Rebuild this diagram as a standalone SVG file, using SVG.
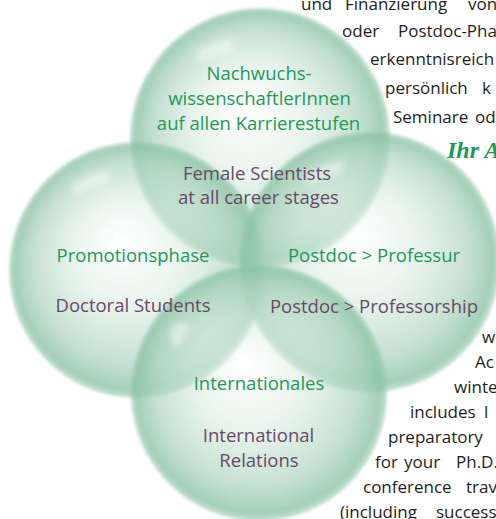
<svg xmlns="http://www.w3.org/2000/svg" width="496" height="519" viewBox="0 0 496 519">
<defs>
  <radialGradient id="sph" cx="0.5" cy="0.5" r="0.5" fx="0.44" fy="0.38">
    <stop offset="0" stop-color="#ffffff" stop-opacity="0.45"/>
    <stop offset="0.45" stop-color="#d3e9dc" stop-opacity="0.55"/>
    <stop offset="0.8" stop-color="#a8d1b9" stop-opacity="0.7"/>
    <stop offset="0.95" stop-color="#8cc3a4" stop-opacity="0.8"/>
    <stop offset="1" stop-color="#8cc3a4" stop-opacity="0.5"/>
  </radialGradient>
  <filter id="soft" x="-10%" y="-10%" width="120%" height="120%"><feGaussianBlur stdDeviation="1.8"/></filter>
  <filter id="hl" x="-50%" y="-50%" width="200%" height="200%"><feGaussianBlur stdDeviation="3"/></filter>
  <style>
    .sphere { fill: url(#sph); filter: url(#soft); }
    .shine { fill: #ffffff; opacity: 0.45; filter: url(#hl); }
    .de { fill: #1b9a58; font-family: "Open Sans", "Noto Sans", sans-serif; font-size: 18.5px; text-anchor: middle; }
    .en { fill: #664a68; font-family: "Open Sans", "Noto Sans", sans-serif; font-size: 18.5px; text-anchor: middle; }
    .para { fill: #1e1e1e; font-family: "Open Sans", "Noto Sans", sans-serif; font-size: 17px; }
    .script { fill: #1b9a58; font-family: "Liberation Serif", "DejaVu Serif", serif; font-style: italic; font-weight: bold; font-size: 24px; }
  </style>
</defs>
<rect width="496" height="519" fill="#ffffff"/>

<!-- paragraph text on the right -->
<g id="paragraph-top">
  <text class="para" y="10"><tspan x="301">und</tspan><tspan x="345">Finanzierung</tspan><tspan x="468">von</tspan></text>
  <text class="para" y="37"><tspan x="342">oder</tspan><tspan x="398">Postdoc-Pha</tspan></text>
  <text class="para" x="370" y="65">erkenntnisreich</text>
  <text class="para" y="94"><tspan x="385">persönlich</tspan><tspan x="482">k</tspan></text>
  <text class="para" y="123"><tspan x="393">Seminare</tspan><tspan x="475">od</tspan></text>
  <text class="script" x="447" y="158">Ihr A</text>
</g>
<g id="paragraph-bottom">
  <text class="para" x="482" y="343">w</text>
  <text class="para" x="475" y="368">Ac</text>
  <text class="para" x="454" y="393">winte</text>
  <text class="para" y="418"><tspan x="410">includes</tspan><tspan x="484">l</tspan></text>
  <text class="para" x="388" y="443">preparatory</text>
  <text class="para" y="468"><tspan x="375">for</tspan><tspan x="404">your</tspan><tspan x="456">Ph.D.</tspan></text>
  <text class="para" y="493"><tspan x="363">conference</tspan><tspan x="466">trav</tspan></text>
  <text class="para" y="518"><tspan x="340">(including</tspan><tspan x="436">success</tspan></text>
</g>

<!-- spheres -->
<g id="sphere-top">
  <circle class="sphere" cx="260" cy="138" r="130"/>
  <path class="shine" d="M196 52 Q215 38 236 40 L230 54 Q212 54 200 62 Z"/>
</g>
<g id="sphere-left">
  <circle class="sphere" cx="137" cy="270" r="128"/>
  <path class="shine" d="M72 186 Q90 172 112 170 L106 184 Q88 186 76 196 Z"/>
</g>
<g id="sphere-right">
  <circle class="sphere" cx="370" cy="262" r="130"/>
  <path class="shine" d="M305 176 Q324 162 346 160 L340 174 Q322 176 309 186 Z"/>
</g>
<g id="sphere-bottom">
  <circle class="sphere" cx="259" cy="393" r="128"/>
  <path class="shine" d="M170 330 Q180 318 190 326 L178 348 Q170 344 170 330 Z"/>
</g>

<!-- labels -->
<g id="node-top">
  <text class="de" x="259" y="80">Nachwuchs-</text>
  <text class="de" x="259.5" y="105">wissenschaftlerInnen</text>
  <text class="de" x="258.5" y="130">auf allen Karrierestufen</text>
  <text class="en" x="257" y="180">Female Scientists</text>
  <text class="en" x="258.5" y="204">at all career stages</text>
</g>
<g id="node-left">
  <text class="de" x="133" y="262">Promotionsphase</text>
  <text class="en" x="133" y="312">Doctoral Students</text>
</g>
<g id="node-right">
  <text class="de" x="374" y="262">Postdoc &gt; Professur</text>
  <text class="en" x="374" y="313">Postdoc &gt; Professorship</text>
</g>
<g id="node-bottom">
  <text class="de" x="259" y="390">Internationales</text>
  <text class="en" x="258.5" y="442">International</text>
  <text class="en" x="259" y="467">Relations</text>
</g>
</svg>
